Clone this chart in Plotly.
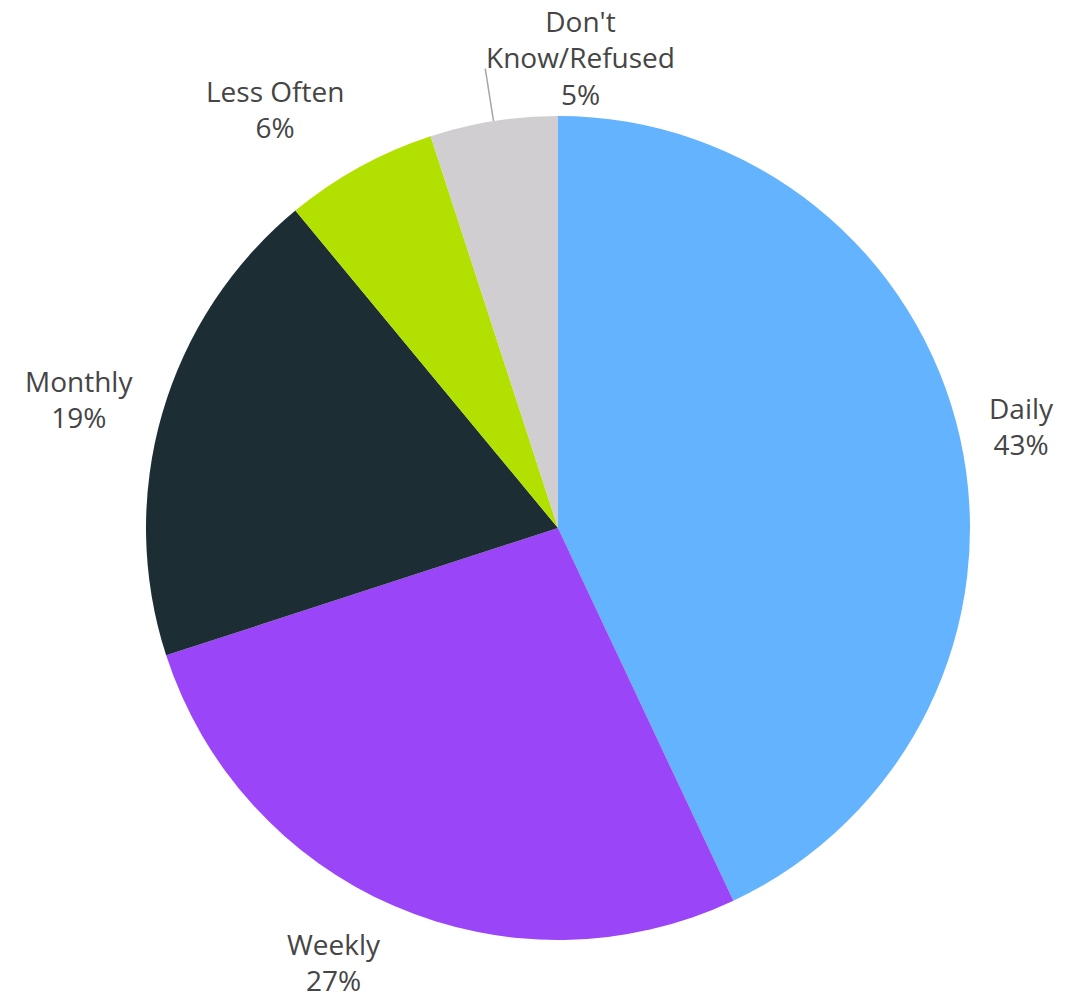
import math
import plotly.graph_objects as go

# Frequency shares (percent), listed clockwise from 12 o'clock
categories = ["Daily", "Weekly", "Monthly", "Less Often", "Don't<br>Know/Refused"]
shares = [43, 27, 19, 6, 5]
colors = ["#63B3FF", "#9B45F8", "#1C2E33", "#B2E000", "#D0CED0"]

# Canvas and pie placement (pixels)
W, H = 1074, 998
M_L, M_R, M_T, M_B = 146, 104, 116, 58
SIZE = W - M_L - M_R               # square plot area
R = SIZE / 2                       # pie radius
CX, CY = M_L + R, M_T + R          # pie centre
LABEL_GAP = 28
FONT = dict(family="Open Sans", size=28, color="#454545")

# Vertical nudge per anchor so the glyphs (not the text box) sit at the gap
Y_NUDGE = {"middle": -6, "bottom": 6, "top": -9}

# Labels that sit away from their slice and get a leader line
callouts = {"Don't<br>Know/Refused": dict(line_len=53, dx=-1, dy=-11)}


def to_paper(px, py):
    return (px - M_L) / SIZE, (H - M_B - py) / SIZE


fig = go.Figure(
    go.Pie(
        labels=categories,
        values=shares,
        sort=False,
        direction="clockwise",
        rotation=0,
        marker=dict(colors=colors, line=dict(width=0)),
        textinfo="none",
        automargin=False,
        showlegend=False,
        hoverinfo="label+value",
    )
)

total = sum(shares)
cum = 0
for name, val in zip(categories, shares):
    mid = (cum + val / 2) / total * 2 * math.pi   # clockwise from top
    cum += val
    sx, cy_ = math.sin(mid), math.cos(mid)
    text = f"{name}<br>{val}%"

    if name in callouts:
        c = callouts[name]
        x0, y0 = CX + R * sx, CY - R * cy_
        x1, y1 = CX + (R + c["line_len"]) * sx, CY - (R + c["line_len"]) * cy_
        p0, p1 = to_paper(x0, y0), to_paper(x1, y1)
        fig.add_shape(type="line", xref="paper", yref="paper",
                      x0=p0[0], y0=p0[1], x1=p1[0], y1=p1[1],
                      line=dict(color="#A6A6A6", width=1.5))
        ax, ay = to_paper(x1 + c["dx"], y1 + c["dy"])
        fig.add_annotation(x=ax, y=ay, xref="paper", yref="paper", text=text,
                           showarrow=False, xanchor="left", yanchor="middle",
                           align="center", font=FONT)
        continue

    px = CX + (R + LABEL_GAP) * sx
    py = CY - (R + LABEL_GAP) * cy_
    xanchor = "left" if sx > 0.3 else ("right" if sx < -0.3 else "center")
    yanchor = "bottom" if cy_ > 0.3 else ("top" if cy_ < -0.3 else "middle")
    ax, ay = to_paper(px, py + Y_NUDGE[yanchor])
    fig.add_annotation(x=ax, y=ay, xref="paper", yref="paper", text=text,
                       showarrow=False, xanchor=xanchor, yanchor=yanchor,
                       align="center", font=FONT)

fig.update_layout(
    width=W,
    height=H,
    margin=dict(l=M_L, r=M_R, t=M_T, b=M_B),
    paper_bgcolor="white",
    plot_bgcolor="white",
    font=FONT,
)

fig.write_html("out.html")
